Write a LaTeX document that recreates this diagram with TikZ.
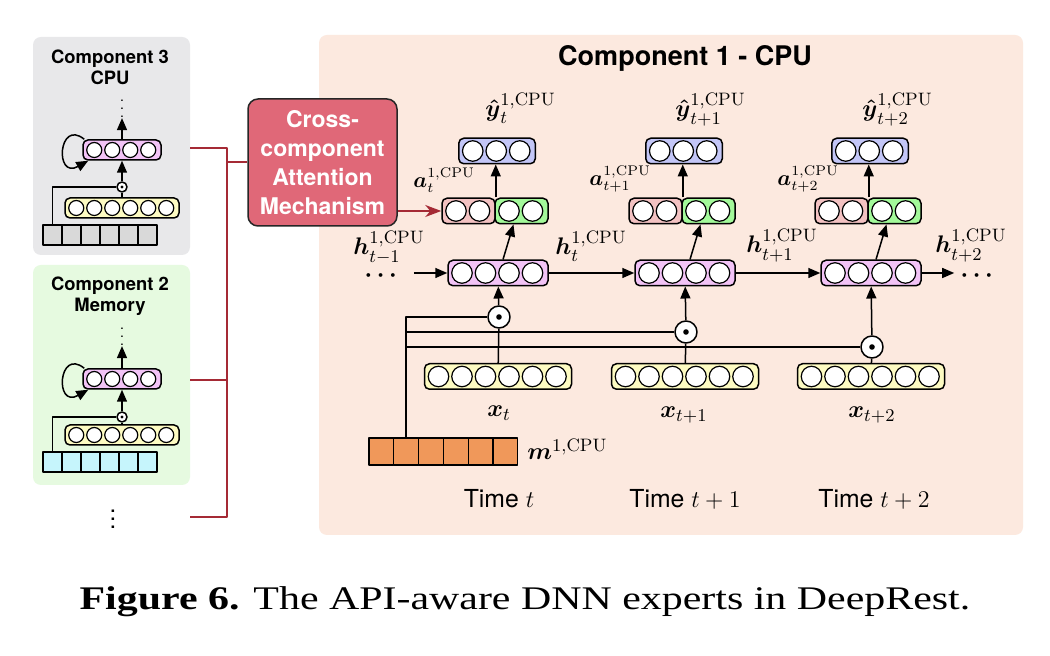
\documentclass[tikz,border=0pt]{standalone}
\usepackage{amsmath}
\usepackage[no-math]{fontspec}
\setmainfont{TeX Gyre Heros}
\newfontfamily\capfont[FakeStretch=1.27]{Liberation Serif}
\usetikzlibrary{arrows.meta,calc,positioning}

\definecolor{mainbg}{HTML}{FCE9DF}
\definecolor{graybg}{HTML}{E8E8EA}
\definecolor{greenbg}{HTML}{E6FAE0}
\definecolor{vpurple}{HTML}{F2C3F6}
\definecolor{vyellow}{HTML}{FDFBC2}
\definecolor{vblue}{HTML}{C3C6F7}
\definecolor{vpink}{HTML}{F3C2C2}
\definecolor{vgreen}{HTML}{A3F99A}
\definecolor{cgray}{HTML}{D9D9D9}
\definecolor{ccyan}{HTML}{C6F5FC}
\definecolor{corange}{HTML}{F0985A}
\definecolor{camfill}{HTML}{E06878}
\definecolor{camred}{HTML}{A52A35}

\tikzset{
  vec/.style={draw, rounded corners=2.5pt, line width=0.75pt, inner sep=0pt},
  dot/.style={circle, draw, fill=white, inner sep=0pt, line width=0.6pt},
  cellsq/.style={draw, inner sep=0pt, line width=0.6pt},
  odot/.style={circle, draw, fill=white, inner sep=0pt, line width=0.75pt, minimum size=#1},
  panel/.style={rounded corners=4pt, inner sep=0pt},
  ttl/.style={font=\bfseries\fontsize{9.2}{10.5}\selectfont, align=center, inner sep=0pt},
  lbl/.style={font=\fontsize{12.5}{14}\selectfont, inner sep=0pt, anchor=base west},
  cam/.style={draw=black!85, fill=camfill, rounded corners=5pt, line width=0.75pt, text=white,
    align=center, font=\bfseries\fontsize{11.5}{14.5}\selectfont, inner sep=0pt},
  conn/.style={line width=0.75pt},
  redline/.style={line width=0.75pt, draw=camred},
}

% box of neurons: [step in pt]{name}{at}{count}{colour}
\newcommand{\vecbox}[5][11.75]{%
  \node[vec, fill=#5, minimum width={#4*#1pt+3pt}, minimum height={#1pt+1pt}] (#2) at (#3) {};
  \foreach \k in {1,...,#4}
    \node[dot, minimum size={#1pt-1.5pt}] (#2-\k) at ($(#2.west)+({(\k-0.5)*#1pt+1.5pt},0pt)$) {};
}
% row of memory cells: {name}{left,y}{count}{colour}{width px}{height px}
\newcommand{\cellrow}[6]{%
  \foreach \k in {1,...,#3}
    \node[cellsq, fill=#4, minimum width={#5*0.5pt}, minimum height={#6*0.5pt}] (#1-\k) at ($(#2)+({(\k-0.5)*#5},0)$) {};
}

\begin{document}
\begin{tikzpicture}[x=0.5pt, y=-0.5pt, >={Triangle[length=6pt,width=5pt]}, line join=round]
\useasboundingbox (0,0) rectangle (1050,656);
\fill[white] (0,0) rectangle (1050,656);

% panels
\node[panel, fill=graybg, minimum width=78.5pt, minimum height=109pt] (comp3) at (111.5,146) {};
\node[panel, fill=greenbg, minimum width=78.5pt, minimum height=110pt] (comp2) at (111.5,375) {};
\node[panel, fill=mainbg, minimum width=352pt, minimum height=250pt] (comp1) at (671,285) {};
\node[ttl] (ttl3) at (110,67.5) {Component 3\\CPU};
\node[ttl] (ttl2) at (110,296) {Component 2\\Memory};
\node[ttl, font=\bfseries\fontsize{13.5}{15}\selectfont] (ttl1) at (685,58) {Component 1 - CPU};

% component 3
\node[inner sep=0pt] (c3d) at (122,103) {\scriptsize$\vdots$};
\vecbox[9]{c3h}{122,150}{4}{vpurple}
\node[odot=5pt] (c3o) at (122,187) {};
\fill (c3o) circle (0.8pt);
\vecbox[9]{c3x}{122,208}{6}{vyellow}
\cellrow{c3m}{43,235}{6}{cgray}{19}{20}
\draw[conn,->] (c3h) -- (c3d);
\draw[conn,->] (c3o) -- (c3h);
\draw[conn] (c3x) -- (c3o);
\draw[conn] (c3m-1.north) |- (c3o.west);
\draw[conn,->] ([xshift=1pt]c3h.north west) .. controls +(-26,-21) and +(-34,19) .. ([xshift=3pt]c3h.south west);

% component 2
\node[inner sep=0pt] (c2d) at (122,331) {\scriptsize$\vdots$};
\vecbox[9]{c2h}{122,379}{4}{vpurple}
\node[odot=5pt] (c2o) at (122,417) {};
\fill (c2o) circle (0.8pt);
\vecbox[9]{c2x}{122,435}{6}{vyellow}
\cellrow{c2m}{43,462}{6}{ccyan}{19}{20}
\draw[conn,->] (c2h) -- (c2d);
\draw[conn,->] (c2o) -- (c2h);
\draw[conn] (c2x) -- (c2o);
\draw[conn] (c2m-1.north) |- (c2o.west);
\draw[conn,->] ([xshift=1pt]c2h.north west) .. controls +(-26,-21) and +(-34,19) .. ([xshift=3pt]c2h.south west);

\node[inner sep=0pt, font=\fontsize{12}{12}\selectfont] (more) at (113,513) {$\vdots$};

% attention mechanism
\node[cam, minimum width=74.5pt, minimum height=63.5pt] (cam) at (322.5,162.5) {Cross-\\component\\Attention\\Mechanism};
\coordinate (j3) at (227,148);
\coordinate (j2) at (227,380);
\coordinate (j1) at (227,517);
\coordinate (jc) at (227,162);
\draw[redline] (comp3.east |- j3) -- (j3) -- (j1) -- (comp2.east |- j1);
\draw[redline] (comp2.east |- j2) -- (j2);
\draw[redline] (jc) -- (cam.west |- jc);

% component 1, three time steps
\foreach \i/\cx/\oy in {1/498/317, 2/685/332, 3/871/347}{
  \vecbox{h\i}{\cx,273}{4}{vpurple}
  \vecbox[11.75]{p\i}{\cx-29.5,211}{2}{vpink}
  \vecbox[11.75]{g\i}{\cx+23.5,211}{2}{vgreen}
  \vecbox{y\i}{\cx-1,151}{3}{vblue}
  \node[odot=11pt] (od\i) at (\cx+1,\oy) {};
  \fill (od\i) circle (1.4pt);
  \vecbox{x\i}{\cx,376.5}{6}{vyellow}
  \draw[conn,->] (od\i) -- (h\i);
  \draw[conn] (x\i) -- (od\i);
  \draw[conn,->] ([xshift=2.5pt]h\i.north) -- ([xshift=-4pt]g\i.south);
  \draw[conn,->] (p\i.north east) -- (p\i.north east |- y\i.south);
}
\cellrow{m}{369,451.5}{6}{corange}{24.8}{27}
\foreach \i in {1,2,3}
  \draw[conn] (m-2.north) |- (od\i.west);

\draw[redline, -{Stealth[length=8pt,width=6pt,inset=2.5pt]}] (cam.east |- p1) -- (p1.west);

\node[inner sep=0pt, font=\large] (ld) at (383,276) {$\boldsymbol{\cdots}$};
\node[inner sep=0pt, font=\large] (rd) at (979,276) {$\boldsymbol{\cdots}$};
\draw[conn,->] ([xshift=6pt]ld.east |- h1) -- (h1.west);
\draw[conn,->] (h1) -- (h2);
\draw[conn,->] (h2) -- (h3);
\draw[conn,->] (h3.east) -- ([xshift=-3pt]rd.west |- h3);

% labels
\node[lbl] (yl1) at (485,117) {$\boldsymbol{\hat{y}}_t^{1,\mathrm{CPU}}$};
\node[lbl] (yl2) at (675,117) {$\boldsymbol{\hat{y}}_{t+1}^{1,\mathrm{CPU}}$};
\node[lbl] (yl3) at (862,117) {$\boldsymbol{\hat{y}}_{t+2}^{1,\mathrm{CPU}}$};
\node[lbl, font=\fontsize{10.5}{12}\selectfont] (al1) at (413,188) {$\boldsymbol{a}_t^{1,\mathrm{CPU}}$};
\node[lbl, font=\fontsize{10.5}{12}\selectfont] (al2) at (589,186) {$\boldsymbol{a}_{t+1}^{1,\mathrm{CPU}}$};
\node[lbl, font=\fontsize{10.5}{12}\selectfont] (al3) at (777,186) {$\boldsymbol{a}_{t+2}^{1,\mathrm{CPU}}$};
\node[lbl] (hl0) at (353,255) {$\boldsymbol{h}_{t-1}^{1,\mathrm{CPU}}$};
\node[lbl] (hl1) at (555,255) {$\boldsymbol{h}_t^{1,\mathrm{CPU}}$};
\node[lbl] (hl2) at (746,253) {$\boldsymbol{h}_{t+1}^{1,\mathrm{CPU}}$};
\node[lbl] (hl3) at (935,253) {$\boldsymbol{h}_{t+2}^{1,\mathrm{CPU}}$};
\node[lbl] (xl1) at (487,417) {$\boldsymbol{x}_t$};
\node[lbl] (xl2) at (660,418) {$\boldsymbol{x}_{t+1}$};
\node[lbl] (xl3) at (848,418) {$\boldsymbol{x}_{t+2}$};
\node[lbl] (ml) at (527,460) {$\boldsymbol{m}^{1,\mathrm{CPU}}$};
\node[lbl, anchor=base, font=\fontsize{12.4}{14}\selectfont] (tm1) at (499,508) {Time $t$};
\node[lbl, anchor=base, font=\fontsize{12.4}{14}\selectfont] (tm2) at (685,508) {Time $t+1$};
\node[lbl, anchor=base, font=\fontsize{12.4}{14}\selectfont] (tm3) at (874,508) {Time $t+2$};

\node[inner sep=0pt, font=\capfont\fontsize{16.5}{18}\selectfont] (cap) at (525,602) {\textbf{Figure 6.} The API-aware DNN experts in DeepRest.};
\end{tikzpicture}
\end{document}
